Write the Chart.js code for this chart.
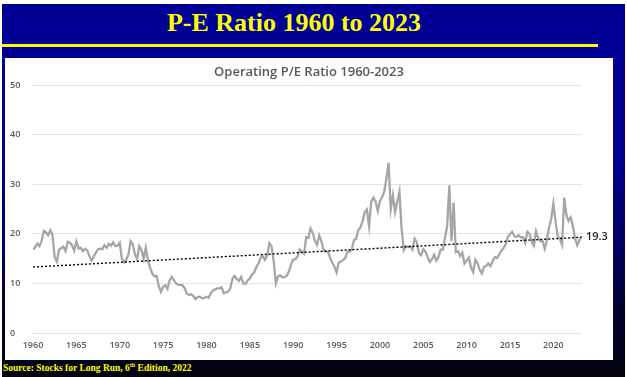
<!DOCTYPE html>
<html><head><meta charset="utf-8">
<script src="https://cdn.jsdelivr.net/npm/chart.js@4.4.0/dist/chart.umd.min.js"></script>
<style>
html,body{margin:0;padding:0;background:#fff;width:627px;height:377px;overflow:hidden;}
#slide{position:absolute;left:2px;top:4px;width:623px;height:373px;
  background:linear-gradient(to bottom,#000096 0%,#000090 40%,#000060 65%,#000028 85%,#03030d 100%);}
#hdr{position:absolute;left:0;width:588px;top:10px;text-align:center;font:bold 26px "Liberation Serif","Times New Roman",serif;line-height:26px;color:#ffff00;white-space:nowrap;}
#rule{position:absolute;left:2px;top:44px;width:596px;height:3px;background:#ffff00;}
#panel{position:absolute;left:5px;top:58px;width:608px;height:302px;background:#fff;}
#ctitle{position:absolute;left:0;width:608px;top:5px;text-align:center;font:600 13px "Open Sans",sans-serif;line-height:16px;color:#595959;white-space:nowrap;}
#src{position:absolute;left:3px;top:362px;font:bold 9.5px "Liberation Serif","Times New Roman",serif;line-height:12px;color:#ffff00;white-space:nowrap;}
#src sup{font-size:6px;line-height:0;vertical-align:4px;}
canvas{position:absolute;left:0;top:0;}
</style></head>
<body>
<div id="slide"></div>
<div id="hdr">P-E Ratio 1960 to 2023</div>
<div id="rule"></div>
<div id="panel">
  <canvas id="c" width="608" height="302"></canvas>
  <div id="ctitle">Operating P/E Ratio 1960-2023</div>
</div>
<div id="src">Source: Stocks for Long Run, 6<sup>th</sup> Edition, 2022</div>
<script>
// Quarterly operating P/E ratio, 1960 Q1 onward
const startYear = 1960;
const quartersPerYear = 4;
const peRatio = [
  16.8, 17.3, 18.0, 17.5,   // 1960
  18.6, 20.6, 20.3, 19.7,   // 1961
  20.7, 19.8, 15.3, 14.4,   // 1962
  16.8, 17.1, 17.4, 16.5,   // 1963
  18.4, 18.2, 17.7, 16.6,   // 1964
  18.5, 17.0, 17.2, 16.5,   // 1965
  17.0, 16.7, 15.5, 14.6,   // 1966
  15.4, 16.2, 16.9, 17.0,   // 1967
  16.9, 17.7, 17.2, 18.0,   // 1968
  17.6, 18.3, 17.5, 17.6,   // 1969
  18.2, 15.0, 14.2, 14.8,   // 1970
  15.8, 18.5, 17.9, 15.9,   // 1971
  14.9, 17.5, 16.8, 15.0,   // 1972
  17.2, 14.6, 13.2, 12.0,   // 1973
  11.4, 11.5, 9.5, 8.3,     // 1974
  9.3, 9.6, 8.9, 10.6,      // 1975
  11.3, 10.6, 10.0, 9.7,    // 1976
  9.7, 9.6, 9.0, 7.9,       // 1977
  7.7, 7.8, 7.4, 6.8,       // 1978
  7.3, 7.3, 7.0, 7.1,       // 1979
  7.3, 7.1, 8.0, 8.6,       // 1980
  8.8, 9.0, 9.0, 9.2,       // 1981
  8.0, 8.2, 8.3, 9.0,       // 1982
  11.0, 11.5, 10.9, 10.5,   // 1983
  11.3, 10.0, 9.9, 10.6,    // 1984
  11.0, 11.8, 12.2, 13.3,   // 1985
  14.0, 15.2, 15.5, 14.7,   // 1986
  15.6, 18.1, 17.5, 14.5,   // 1987
  10.0, 11.4, 11.6, 11.2,   // 1988
  11.3, 11.5, 12.4, 13.8,   // 1989
  14.8, 14.9, 15.4, 16.8,   // 1990
  16.4, 16.0, 19.3, 19.2,   // 1991
  21.1, 20.2, 18.6, 17.8,   // 1992
  19.7, 18.5, 16.8, 16.4,   // 1993
  16.4, 15.2, 14.2, 13.4,   // 1994
  12.2, 14.2, 14.4, 14.7,   // 1995
  15.1, 16.4, 16.4, 16.8,   // 1996
  18.7, 19.0, 20.7, 21.3,   // 1997
  22.5, 24.4, 24.9, 21.5,   // 1998
  26.5, 27.3, 26.5, 24.6,   // 1999
  26.6, 27.4, 28.5, 31.2,   // 2000
  34.3, 25.0, 27.8, 24.4,   // 2001
  26.5, 28.5, 21.0, 16.7,   // 2002
  17.5, 17.3, 17.5, 16.8,   // 2003
  19.0, 18.3, 16.1, 15.7,   // 2004
  16.9, 16.4, 15.3, 14.3,   // 2005
  14.9, 15.8, 14.6, 15.3,   // 2006
  16.8, 16.8, 19.2, 21.5,   // 2007
  29.8, 18.5, 26.3, 16.3,   // 2008
  16.5, 15.5, 16.2, 14.0,   // 2009
  14.6, 15.2, 13.2, 12.3,   // 2010
  14.8, 14.1, 12.8, 12.0,   // 2011
  13.3, 13.5, 14.0, 13.5,   // 2012
  14.5, 15.3, 15.1, 15.8,   // 2013
  16.6, 17.1, 17.9, 19.4,   // 2014
  19.9, 20.4, 19.5, 19.4,   // 2015
  19.7, 19.3, 19.3, 18.2,   // 2016
  20.4, 20.0, 18.4, 17.6,   // 2017
  20.5, 19.2, 18.5, 18.6,   // 2018
  17.0, 18.7, 21.2, 23.0,   // 2019
  26.1, 22.5, 19.5, 19.0,   // 2020
  17.8, 27.3, 23.8, 22.6,   // 2021
  23.3, 21.5, 19.1, 17.7,   // 2022
  18.7, 19.5                // 2023
];
// Linear trend (dotted line) endpoints
const trendStart = 13.3;
const trendEnd = 19.3;
const trendLabel = "19.3";
// Axis ticks
const yTicks = [0, 10, 20, 30, 40, 50];
const xTickYears = [1960, 1965, 1970, 1975, 1980, 1985, 1990, 1995, 2000, 2005, 2010, 2015, 2020];

const pePoints = peRatio.map((v, i) => ({ x: startYear + i / quartersPerYear, y: v }));
const lastYear = startYear + (peRatio.length - 1) / quartersPerYear;
const trendPoints = [{ x: startYear, y: trendStart }, { x: lastYear, y: trendEnd }];

const tickFont = { family: "'Open Sans', sans-serif", size: 9, weight: '600' };

const endLabel = {
  id: 'endLabel',
  afterDatasetsDraw(chart) {
    const { ctx, chartArea, scales } = chart;
    ctx.save();
    ctx.font = "600 11px 'Open Sans', sans-serif";
    ctx.fillStyle = '#262626';
    ctx.textAlign = 'left';
    ctx.textBaseline = 'middle';
    ctx.fillText(trendLabel, chartArea.right + 4, scales.y.getPixelForValue(trendEnd));
    ctx.restore();
  }
};

new Chart(document.getElementById('c'), {
  type: 'line',
  data: {
    datasets: [
      { label: 'Trend', data: trendPoints, borderColor: '#000000', borderWidth: 1.4,
        borderDash: [2, 2], pointRadius: 0, fill: false },
      { label: 'Operating P/E', data: pePoints, borderColor: '#a6a6a6', borderWidth: 2.3,
        pointRadius: 0, fill: false, tension: 0 }
    ]
  },
  options: {
    responsive: false,
    animation: false,
    events: [],
    layout: { padding: { left: 5, right: 31, top: 27, bottom: 0 } },
    plugins: { legend: { display: false }, title: { display: false }, tooltip: { enabled: false } },
    scales: {
      x: {
        type: 'linear', min: 1960, max: 2023.3,
        grid: { display: false, drawTicks: false },
        border: { display: false },
        afterBuildTicks: s => { s.ticks = xTickYears.map(v => ({ value: v })); },
        afterFit: s => { s.height = 27; },
        ticks: { autoSkip: false, maxRotation: 0, padding: 7, color: '#595959', font: tickFont,
                 callback: v => String(v) }
      },
      y: {
        min: 0, max: 50,
        grid: { color: '#e4e4e4', lineWidth: 1, drawTicks: false },
        border: { display: false },
        afterBuildTicks: s => { s.ticks = yTicks.map(v => ({ value: v })); },
        afterFit: s => { s.width = 23; },
        ticks: { crossAlign: 'far', padding: 0, color: '#595959', font: tickFont }
      }
    }
  },
  plugins: [endLabel]
});
</script>
</body></html>
